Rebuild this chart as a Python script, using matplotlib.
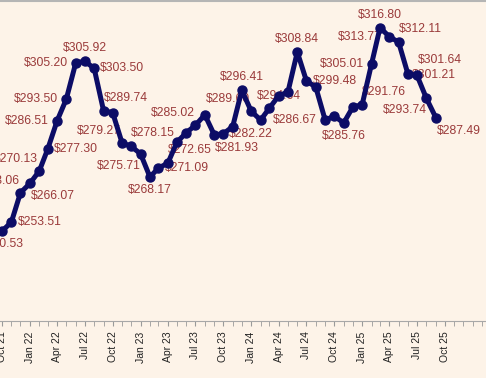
import matplotlib
matplotlib.use('Agg')
import matplotlib.pyplot as plt
import matplotlib.dates as mdates
from matplotlib.ticker import FixedLocator
import pandas as pd

# monthly price series, Oct 2021 .. Sep 2025
months = pd.date_range('2021-10-01', periods=48, freq='MS')
prices = [250.53, 253.51, 263.06, 266.07, 270.13, 277.30, 286.51, 293.50,
          305.20, 305.92, 303.50, 289.74, 289.10, 279.27, 278.15, 275.71,
          268.17, 271.09, 272.65, 279.50, 282.60, 285.02, 288.40, 281.93,
          282.22, 284.60, 296.41, 289.60, 286.70, 290.60, 294.64, 295.80,
          308.84, 299.48, 297.40, 286.67, 288.00, 285.76, 290.90, 291.76,
          305.01, 316.80, 313.77, 312.11, 301.64, 301.21, 293.74, 287.49]

# labelled quarter ticks (last one is Oct 25)
quarter_ticks = pd.date_range('2021-10-01', '2025-10-01', freq='QS-OCT')

# where each value label sits ('' = no label shown)
label_pos = ['below', 'right', 'ul', 'dr', 'ul', 'right', 'left', 'left',
             'left', 'above', 'right', 'ur', '', 'ul', 'ur', 'dl',
             'below', 'right', 'ur', '', '', 'ul', '', 'dr',
             'right', '', 'above', 'ul', '', '', 'center', '',
             'above', 'right', '', 'left', '', 'below', '', 'ur',
             'left', 'above', 'left', 'ur', 'rr', 'on_r', 'dl', 'dr']

# offset in pixels (dx, dy) and alignment for each placement
placements = {
    'below': (0, -13, 'center'),
    'above': (0, 13, 'center'),
    'right': (6, 0, 'left'),
    'left': (-8, 0, 'right'),
    'ur': (0, 13, 'left'),
    'ul': (-1, 12, 'right'),
    'dr': (1, -13, 'left'),
    'dl': (0, -12, 'right'),
    'center': (0, 0, 'center'),
    'rr': (10, 14, 'left'),
    'on_r': (-5, 0, 'left'),
}

bg = '#FDF3E8'
fig = plt.figure(figsize=(4.86, 3.78), dpi=100, facecolor=bg)
ax = fig.add_axes([0, 57 / 378, 1, 1 - 57 / 378 - 1 / 378], facecolor=bg)

ax.plot(months, prices, color='#0C0C66', linewidth=3.6, marker='o',
        markersize=6.5, zorder=4, solid_joinstyle='round')

for d, p, pos in zip(months, prices, label_pos):
    if not pos:
        continue
    dx, dy, ha = placements[pos]
    ax.annotate(f"${p:.2f}", (d, p), xytext=(dx, dy), textcoords='offset pixels',
                ha=ha, va='center', fontsize=8.7, color='#9A3A3A',
                family='Liberation Sans', zorder=3, annotation_clip=False)

# axis scaling chosen so the crop matches the reference frame
start = pd.Timestamp('2021-10-01') - pd.Timedelta(days=6.6)
ax.set_xlim(start, start + pd.Timedelta(days=1603))
ax.set_ylim(221.3, 325.45)

ax.xaxis.set_major_locator(FixedLocator(mdates.date2num(quarter_ticks)))
ax.xaxis.set_minor_locator(mdates.MonthLocator())
ax.xaxis.set_major_formatter(mdates.DateFormatter('%b %y'))
ax.tick_params(axis='x', which='both', length=3.5, color='#9A9A9A', pad=4)
ax.tick_params(axis='x', which='major', labelsize=7.5, labelcolor='#222222',
               labelrotation=90)
for lbl in ax.get_xticklabels():
    lbl.set_family('Liberation Sans')
ax.set_yticks([])

for side in ['left', 'right']:
    ax.spines[side].set_visible(False)
ax.spines['bottom'].set_color('#A8A8A8')
ax.spines['top'].set_color('#B5B5B5')
ax.spines['top'].set_linewidth(1.5)

fig.savefig('out.png', dpi=100, facecolor=bg)
